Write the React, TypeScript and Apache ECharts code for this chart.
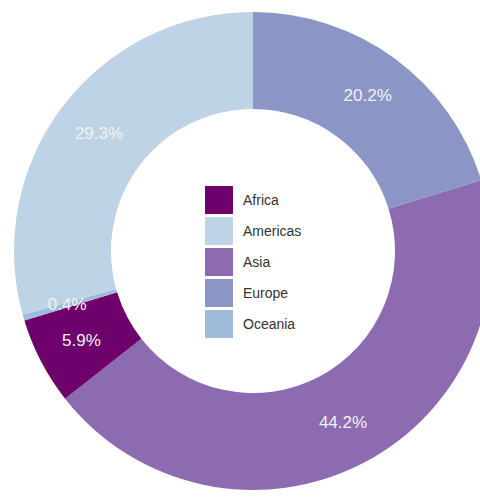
import React, { useEffect, useRef } from "react";
import * as echarts from "echarts";

const regions = ["Europe", "Asia", "Africa", "Oceania", "Americas"];
const shares = [20.2, 44.2, 5.9, 0.4, 29.3];
const colors = ["#8c96c6", "#8c6bb1", "#6e016b", "#9ebcda", "#bfd3e6"];
const legendOrder = ["Africa", "Americas", "Asia", "Europe", "Oceania"];

export default function App() {
  const ref = useRef<HTMLDivElement>(null);
  useEffect(() => {
    if (!ref.current) return;
    const chart = echarts.init(ref.current, null, { renderer: "svg" });
    chart.setOption({
      animation: false,
      backgroundColor: "#ffffff",
      textStyle: { fontFamily: "Liberation Sans, Arial, sans-serif" },
      legend: {
        data: legendOrder,
        orient: "vertical",
        left: 205,
        top: 186,
        padding: 0,
        itemWidth: 28,
        itemHeight: 28,
        itemGap: 3,
        icon: "rect",
        textStyle: { fontSize: 14, color: "#333333", padding: [0, 0, 0, 5] },
        selectedMode: false,
      },
      series: [
        {
          type: "pie",
          center: [253, 251],
          radius: [142, 239],
          startAngle: 90,
          clockwise: true,
          avoidLabelOverlap: false,
          label: {
            show: true,
            position: "inside",
            color: "#f2f2f2",
            fontSize: 17,
            formatter: (p: any) => p.value.toFixed(1) + "%",
          },
          labelLine: { show: false },
          emphasis: { disabled: true },
          itemStyle: { borderWidth: 0 },
          data: regions.map((name, i) => ({
            name,
            value: shares[i],
            itemStyle: { color: colors[i] },
          })),
        },
      ],
    });
    return () => chart.dispose();
  }, []);
  return (
    <div
      ref={ref}
      style={{ position: "absolute", left: 0, top: 0, width: 480, height: 500 }}
    />
  );
}
